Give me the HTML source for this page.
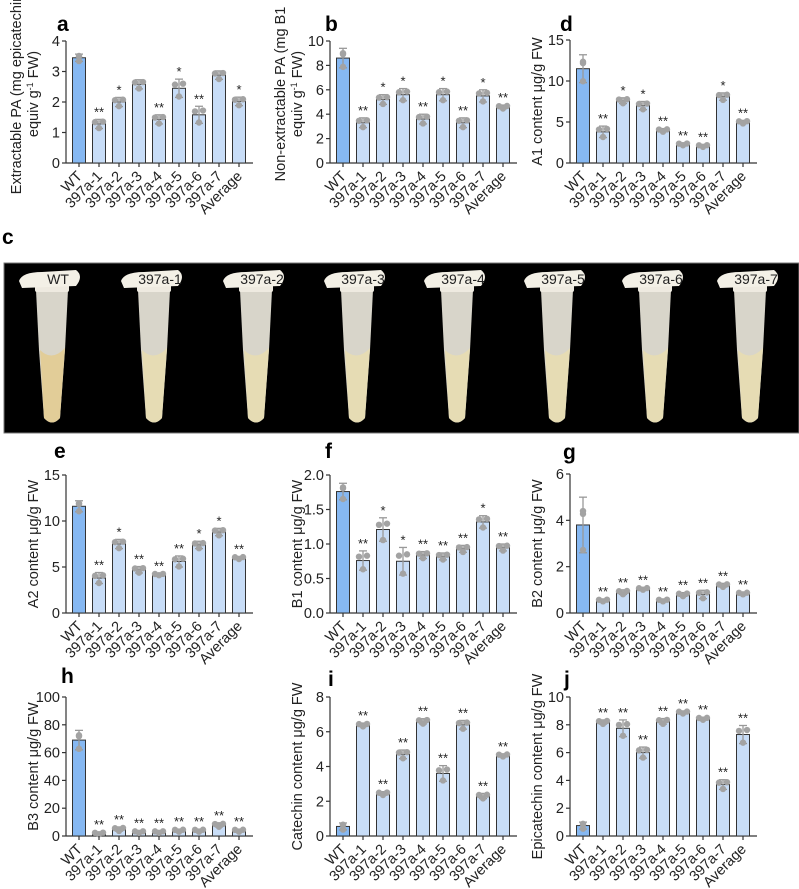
<!DOCTYPE html>
<html><head><meta charset="utf-8"><style>
html,body{margin:0;padding:0;background:#fff;}
svg{display:block;font-family:"Liberation Sans",sans-serif;}
</style></head><body>
<svg id="fig" width="799" height="889" viewBox="0 0 799 889" xmlns="http://www.w3.org/2000/svg">
<g id="photo"></g>
</svg>
<script>
const categories = ["WT","397a-1","397a-2","397a-3","397a-4","397a-5","397a-6","397a-7","Average"];
const valuesA = [3.45,1.28,2.0,2.58,1.43,2.45,1.58,2.88,2.02];
const errA = [0.12,0.15,0.15,0.15,0.15,0.3,0.28,0.14,0.14];
const starsA = ["","**","*","","**","*","**","","*"];
const valuesB = [8.6,3.3,5.2,5.6,3.6,5.6,3.3,5.5,4.6];
const errB = [0.8,0.4,0.4,0.5,0.4,0.5,0.4,0.5,0.15];
const starsB = ["","**","*","*","**","*","**","*","**"];
const valuesD = [11.5,3.8,7.6,7.0,4.0,2.3,2.1,8.1,5.0];
const errD = [1.7,0.7,0.35,0.5,0.2,0.15,0.15,0.45,0.2];
const starsD = ["","**","*","*","**","**","**","*","**"];
const valuesE = [11.6,3.8,7.5,4.7,4.2,5.6,7.4,8.8,6.0];
const errE = [0.6,0.6,0.5,0.35,0.1,0.6,0.4,0.4,0.15];
const starsE = ["","**","*","**","**","**","*","*","**"];
const valuesF = [1.76,0.76,1.21,0.75,0.84,0.82,0.93,1.32,0.95];
const errF = [0.12,0.14,0.17,0.2,0.05,0.05,0.05,0.09,0.05];
const starsF = ["","**","*","*","**","**","**","*","**"];
const valuesG = [3.8,0.55,0.9,1.05,0.55,0.8,0.8,1.2,0.85];
const errG = [1.2,0.05,0.1,0.05,0.05,0.08,0.18,0.08,0.05];
const starsG = ["","**","**","**","**","**","**","**","**"];
const valuesH = [69,2,5,3,3,4,4,8,4];
const errH = [7,0.8,1.5,0.8,0.8,1,1,1.5,1];
const starsH = ["","**","**","**","**","**","**","**","**"];
const valuesI = [0.55,6.4,2.45,4.7,6.6,3.6,6.4,2.3,4.65];
const errI = [0.2,0.1,0.1,0.25,0.15,0.45,0.25,0.15,0.08];
const starsI = ["","**","**","**","**","**","**","**","**"];
const valuesJ = [0.75,8.2,7.75,6.0,8.25,8.9,8.45,3.7,7.3];
const errJ = [0.25,0.15,0.6,0.4,0.2,0.1,0.1,0.35,0.65];
const starsJ = ["","**","**","**","**","**","**","**","**"];
const ticksA=["0","1","2","3","4"], ticksB=["0","2","4","6","8","10"], ticksD=["0","5","10","15"];
const ticksE=["0","5","10","15"], ticksF=["0.0","0.5","1.0","1.5","2.0"], ticksG=["0","2","4","6"];
const ticksH=["0","20","40","60","80","100"], ticksI=["0","2","4","6","8"], ticksJ=["0","2","4","6","8","10"];

const NS="http://www.w3.org/2000/svg";
const svg=document.getElementById('fig');
function mk(tag,attrs,parent){const e=document.createElementNS(NS,tag);for(const k in attrs)e.setAttribute(k,attrs[k]);(parent||svg).appendChild(e);return e;}

function panel(id,letter,lx,ly,ax,yTop,y0,ticks,vals,errs,stars,title,title2){
  const g=mk('g',{});
  
  
  const max=parseFloat(ticks[ticks.length-1]);
  const yS=v=>y0-(v/max)*(y0-yTop);
  const xS=i=>ax+13+i*20;
  const L=mk('text',{x:lx,y:ly,'font-size':21,'font-weight':'bold',fill:'#000'},g);L.textContent=letter;
  
  
  const ya=mk('line',{x1:ax,y1:yTop,x2:ax,y2:y0,stroke:'#333','stroke-width':1.2},g);
  
  
  ticks.forEach((t,k)=>{const v=parseFloat(t);const y=yS(v);
    mk('line',{x1:ax-4,y1:y,x2:ax,y2:y,stroke:'#333','stroke-width':1.2},g);
    const tt=mk('text',{x:ax-6,y:y+5,'font-size':14.5,'text-anchor':'end',fill:'#222'},g);tt.textContent=t;
    
    
  });
  const xa=mk('line',{x1:ax,y1:y0,x2:ax+187,y2:y0,stroke:'#333','stroke-width':1.2},g);
  
  
  const cy=(yTop+y0)/2;
  if(title2){
    const t1=mk('text',{x:0,y:0,'font-size':14.5,'text-anchor':'middle',fill:'#222',transform:`translate(${ax-45},${cy-8}) rotate(-90)`},g);t1.textContent=title;
    
    
    const t2=mk('text',{x:0,y:0,'font-size':14.5,'text-anchor':'middle',fill:'#222',transform:`translate(${ax-28},${cy-8}) rotate(-90)`},g);
    t2.innerHTML=title2;
    
    
  } else {
    const t1=mk('text',{x:0,y:0,'font-size':14.5,'text-anchor':'middle',fill:'#222',transform:`translate(${ax-28},${cy}) rotate(-90)`},g);t1.textContent=title;
    
    
  }
  vals.forEach((v,i)=>{
    const cx=xS(i), y=yS(v);
    const b=mk('rect',{x:cx-6.5,y:y,width:13,height:y0-y,fill:i===0?'#86b8f2':'#c8ddf7',stroke:'#333','stroke-width':1},g);
    
    
    const e=errs[i];
    const yh=yS(v+e), yl=yS(Math.max(0,v-e));
    mk('line',{x1:cx,y1:yh,x2:cx,y2:yl,stroke:'#999','stroke-width':1.3},g);
    mk('line',{x1:cx-4,y1:yh,x2:cx+4,y2:yh,stroke:'#999','stroke-width':1.3},g);
    mk('line',{x1:cx-4,y1:yl,x2:cx+4,y2:yl,stroke:'#999','stroke-width':1.3},g);
    [[-4,v+e*0.4],[0,v-e*0.9],[4,v+e*0.5]].forEach(p=>{
      const d=mk('circle',{cx:cx+(i===0?0:p[0]),cy:yS(Math.max(0,p[1])),r:3.2,fill:'#a3a3a3'},g);
      
      
    });
    if(stars[i]){const s=mk('text',{x:cx,y:yh-3,'font-size':13,'text-anchor':'middle',fill:'#222'},g);s.textContent=stars[i];
      
      }
    mk('line',{x1:cx,y1:y0,x2:cx,y2:y0+4,stroke:'#333','stroke-width':1.2},g);
    const xl=mk('text',{x:0,y:0,'font-size':14.5,'text-anchor':'end',fill:'#222',transform:`translate(${cx+4},${y0+14}) rotate(-45)`},g);
    xl.textContent=categories[i];
    
    
  });
}
panel('a','a',57,31,66,41,163,ticksA,valuesA,errA,starsA,'Extractable PA  (mg epicatechin','equiv g<tspan dy="-5" font-size="9">-1</tspan><tspan dy="5"> FW)</tspan>');
panel('b','b',325,31,330,41,163,ticksB,valuesB,errB,starsB,'Non-extractable PA (mg B1','equiv g<tspan dy="-5" font-size="9">-1</tspan><tspan dy="5"> FW)</tspan>');
panel('d','d',560,31,570,40,163,ticksD,valuesD,errD,starsD,'A1 content μg/g FW');
panel('e','e',54,458,66,475,613,ticksE,valuesE,errE,starsE,'A2 content μg/g FW');
panel('f','f',325,458,330,475,613,ticksF,valuesF,errF,starsF,'B1 content μg/g FW');
panel('g','g',563,459,570,474,613,ticksG,valuesG,errG,starsG,'B2 content μg/g FW');
panel('h','h',61,683,66,697,836,ticksH,valuesH,errH,starsH,'B3 content μg/g FW');
panel('i','i',328,686,330,697,836,ticksI,valuesI,errI,starsI,'Catechin content μg/g FW');
panel('j','j',564,686,570,697,836,ticksJ,valuesJ,errJ,starsJ,'Epicatechin content μg/g FW');

const ph=document.getElementById('photo');
const cl=mk('text',{x:2,y:244,'font-size':21,'font-weight':'bold'},ph);cl.textContent='c';


mk('rect',{x:4,y:263,width:795,height:170,fill:'#000',stroke:'#777','stroke-width':1},ph);
const tubeX=[52,154,256,357,457,557,655,750];
const tubeLabels=["WT","397a-1","397a-2","397a-3","397a-4","397a-5","397a-6","397a-7"];
tubeX.forEach((x,i)=>{
  const g=mk('g',{},ph);
  
  
  mk('path',{d:`M${x-16},${290} L${x+16},${290} L${x+13},${350} L${x+8},${418} Q${x},${427} ${x-8},${418} L${x-13},${350} Z`,fill:'#d8d5ca'},g);
  mk('path',{d:`M${x-12},${350} Q${x},${362} ${x+13},${348} L${x+8},${418} Q${x},${427} ${x-8},${418} Z`,fill:i===0?'#e2cd98':'#e6dcb4'},g);
  mk('rect',{x:x-17,y:284,width:34,height:8,rx:2,fill:'#eeeae0'},g);
  mk('path',{d:`M${x-33},${281} Q${x-30},${272} ${x-10},${272} L${x+24},${270} Q${x+32},${276} ${x+24},${286} L${x-30},${288} Z`,fill:'#f3f0e6'},g);
  const t=mk('text',{x:x+6,y:284,'font-size':14,'text-anchor':'middle',fill:'#222'},g);t.textContent=tubeLabels[i];
  
  
});
</script>
</body></html>
